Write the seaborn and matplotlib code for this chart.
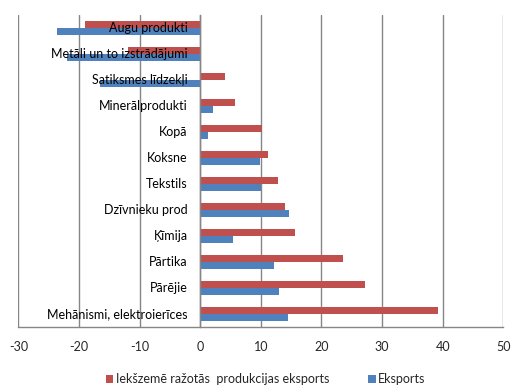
import matplotlib
matplotlib.use("Agg")
import matplotlib.pyplot as plt
import matplotlib.transforms as mtransforms
import seaborn as sns
import pandas as pd
import numpy as np
from matplotlib.patches import Patch

categories = ["Augu produkti", "Metāli un to izstrādājumi", "Satiksmes līdzekļi",
              "Minerālprodukti", "Kopā", "Koksne", "Tekstils", "Dzīvnieku prod",
              "Ķīmija", "Pārtika", "Pārējie", "Mehānismi, elektroierīces"]
domestic = [-19.1, -12.0, 4.1, 5.8, 10.2, 11.2, 12.9, 13.9, 15.7, 23.6, 27.1, 39.3]
exports = [-23.7, -22.0, -16.5, 2.1, 1.3, 9.9, 10.1, 14.7, 5.4, 12.2, 13.0, 14.4]
series_names = ["Iekšzemē ražotās  produkcijas eksports", "Eksports"]
xticks = [-30, -20, -10, 0, 10, 20, 30, 40, 50]
colors = ["#C0504D", "#4F81BD"]

sns.set_style("white")
plt.rcParams['font.family'] = ['Lato', 'DejaVu Sans']

df = pd.DataFrame({
    "cat": categories * 2,
    "val": domestic + exports,
    "series": [series_names[0]] * len(categories) + [series_names[1]] * len(categories),
})

fig = plt.figure(figsize=(5.18, 3.92), dpi=100)
ax = fig.add_axes([0.0357, 0.1666, 0.9359, 0.7951])

sns.barplot(data=df, y="cat", x="val", hue="series", hue_order=series_names,
            order=categories, palette=colors, orient="h", width=0.53,
            saturation=1, ax=ax, legend=False, errorbar=None, linewidth=0)

ax.set_xlim(-30, 50)
ax.set_ylim(len(categories) - 0.5, -0.5)
ax.set_xticks(xticks)
ax.set_xticklabels([str(t) for t in xticks], fontsize=9)
ax.set_xlabel("")
ax.set_ylabel("")

grid_c = "#868686"
ax.xaxis.grid(True, color=grid_c, linewidth=1)
ax.set_axisbelow(True)

for s in ["top", "right"]:
    ax.spines[s].set_visible(False)
ax.spines["bottom"].set_color(grid_c)
ax.spines["bottom"].set_linewidth(1)
ax.spines["left"].set_position(("data", 0))
ax.spines["left"].set_color(grid_c)
ax.spines["left"].set_linewidth(1)
ax.spines["left"].set_zorder(3)

# category boundaries get tick marks; labels drawn as text above bars
ax.set_yticks(np.arange(-0.5, len(categories), 1.0))
ax.set_yticklabels([])
ax.tick_params(axis="y", which="major", length=4, color=grid_c, width=1, direction="out")
ax.tick_params(axis="x", which="major", length=4, color=grid_c, width=1, direction="out", pad=6)

trans = mtransforms.offset_copy(ax.transData, fig=fig, x=-12.5, y=0, units="dots")
for i, c in enumerate(categories):
    ax.text(0, i, c, transform=trans, ha="right", va="center", fontsize=9,
            color="black", zorder=10)

handles = [Patch(facecolor=colors[0], edgecolor="none"), Patch(facecolor=colors[1], edgecolor="none")]
fig.legend(handles, series_names, loc="center", bbox_to_anchor=(0.513, 0.033),
           ncol=2, frameon=False, fontsize=9, handlelength=0.6, handleheight=0.6,
           handletextpad=0.2, columnspacing=3.1)

fig.savefig("out.png", dpi=100)
